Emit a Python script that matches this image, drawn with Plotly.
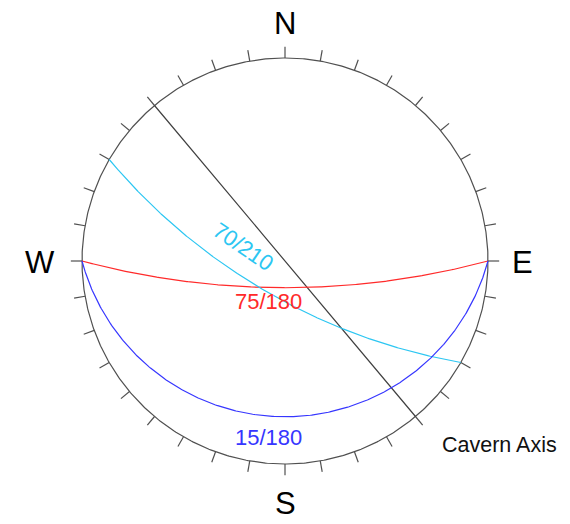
import numpy as np
import plotly.graph_objects as go

# Planes plotted as great circles (dip / dip direction, degrees)
plane_labels = ["75/180", "70/210", "15/180"]
plane_dips = [75, 70, 15]
plane_dipdirs = [180, 210, 180]
plane_colors = ["#ff2a2a", "#2cc6f2", "#3636ff"]

# Cavern axis drawn as a vertical plane along its trend
axis_label = "Cavern Axis"
axis_trend = 140

compass_labels = ["N", "E", "S", "W"]
compass_az = [0, 90, 180, 270]
tick_az = list(range(0, 360, 10))

R_PX = 203.0  # net radius in pixels
CX, CY = 285.0, 261.0
W, H = 570, 524


def px(x, y):
    """pixel position -> net coordinates (unit radius)"""
    return (x - CX) / R_PX, (CY - y) / R_PX


def great_circle(dip, dipdir, n=361):
    """lower-hemisphere equal-angle (Wulff) projection of a plane"""
    a = np.radians(dipdir)
    d = np.radians(dip)
    s = np.array([np.sin(a - np.pi / 2), np.cos(a - np.pi / 2), 0.0])
    dv = np.array([np.cos(d) * np.sin(a), np.cos(d) * np.cos(a), np.sin(d)])
    th = np.linspace(0, np.pi, n)
    v = np.outer(np.cos(th), s) + np.outer(np.sin(th), dv)
    plunge = np.arcsin(np.clip(v[:, 2], -1, 1))
    trend = np.arctan2(v[:, 0], v[:, 1])
    r = np.tan((np.pi / 2 - plunge) / 2)
    return r * np.sin(trend), r * np.cos(trend)


fig = go.Figure()

# primitive circle
t = np.linspace(0, 2 * np.pi, 721)
fig.add_trace(go.Scatter(x=np.sin(t), y=np.cos(t), mode="lines",
                         line=dict(color="#505050", width=1.2),
                         hoverinfo="skip", showlegend=False))

# 10-degree ticks outside the primitive
tx, ty = [], []
for az in tick_az:
    ra = np.radians(az)
    tx += [np.sin(ra), 1.055 * np.sin(ra), None]
    ty += [np.cos(ra), 1.055 * np.cos(ra), None]
fig.add_trace(go.Scatter(x=tx, y=ty, mode="lines",
                         line=dict(color="#505050", width=1.2),
                         hoverinfo="skip", showlegend=False))

# cavern axis (vertical plane)
ax_x, ax_y = great_circle(90, axis_trend + 90)
fig.add_trace(go.Scatter(x=ax_x, y=ax_y, mode="lines",
                         line=dict(color="#404040", width=1.2),
                         hoverinfo="skip", showlegend=False))

curves = {}
for lab, dp, dd, col in zip(plane_labels, plane_dips, plane_dipdirs, plane_colors):
    gx, gy = great_circle(dp, dd)
    curves[lab] = (gx, gy)
    fig.add_trace(go.Scatter(x=gx, y=gy, mode="lines",
                             line=dict(color=col, width=1.2),
                             hoverinfo="skip", showlegend=False))

# label positions (pixels)
label_pos = {"75/180": (268, 301), "70/210": (243, 246), "15/180": (268, 437)}
annotations = []
for lab, col in zip(plane_labels, plane_colors):
    lx, ly = px(*label_pos[lab])
    angle = 0
    if lab == "70/210":
        gx, gy = curves[lab]
        i = np.argmin((gx - lx) ** 2 + (gy - ly) ** 2)
        angle = -np.degrees(np.arctan2(gy[i + 1] - gy[i - 1], gx[i + 1] - gx[i - 1]))
        if angle > 90:
            angle -= 180
        if angle < -90:
            angle += 180
    annotations.append(dict(x=lx, y=ly, text=lab, showarrow=False, textangle=angle,
                            font=dict(size=22, color=col, family="Liberation Sans, Arial")))

cx_, cy_ = px(499, 445)
annotations.append(dict(x=cx_, y=cy_, text=axis_label, showarrow=False,
                        font=dict(size=21.5, color="#111111", family="Liberation Sans, Arial")))

compass_px = {"N": (285, 23), "E": (522, 262), "S": (285, 503), "W": (40, 262)}
for lab in compass_labels:
    lx, ly = px(*compass_px[lab])
    annotations.append(dict(x=lx, y=ly, text=lab, showarrow=False,
                            font=dict(size=31, color="#000000", family="Liberation Sans, Arial")))

fig.update_layout(
    width=W, height=H,
    margin=dict(l=0, r=0, t=0, b=0),
    paper_bgcolor="white", plot_bgcolor="white",
    xaxis=dict(range=[-CX / R_PX, (W - CX) / R_PX], visible=False, fixedrange=True),
    yaxis=dict(range=[-(H - CY) / R_PX, CY / R_PX], visible=False, fixedrange=True),
    annotations=annotations,
    showlegend=False,
)

fig.write_html("out.html")
